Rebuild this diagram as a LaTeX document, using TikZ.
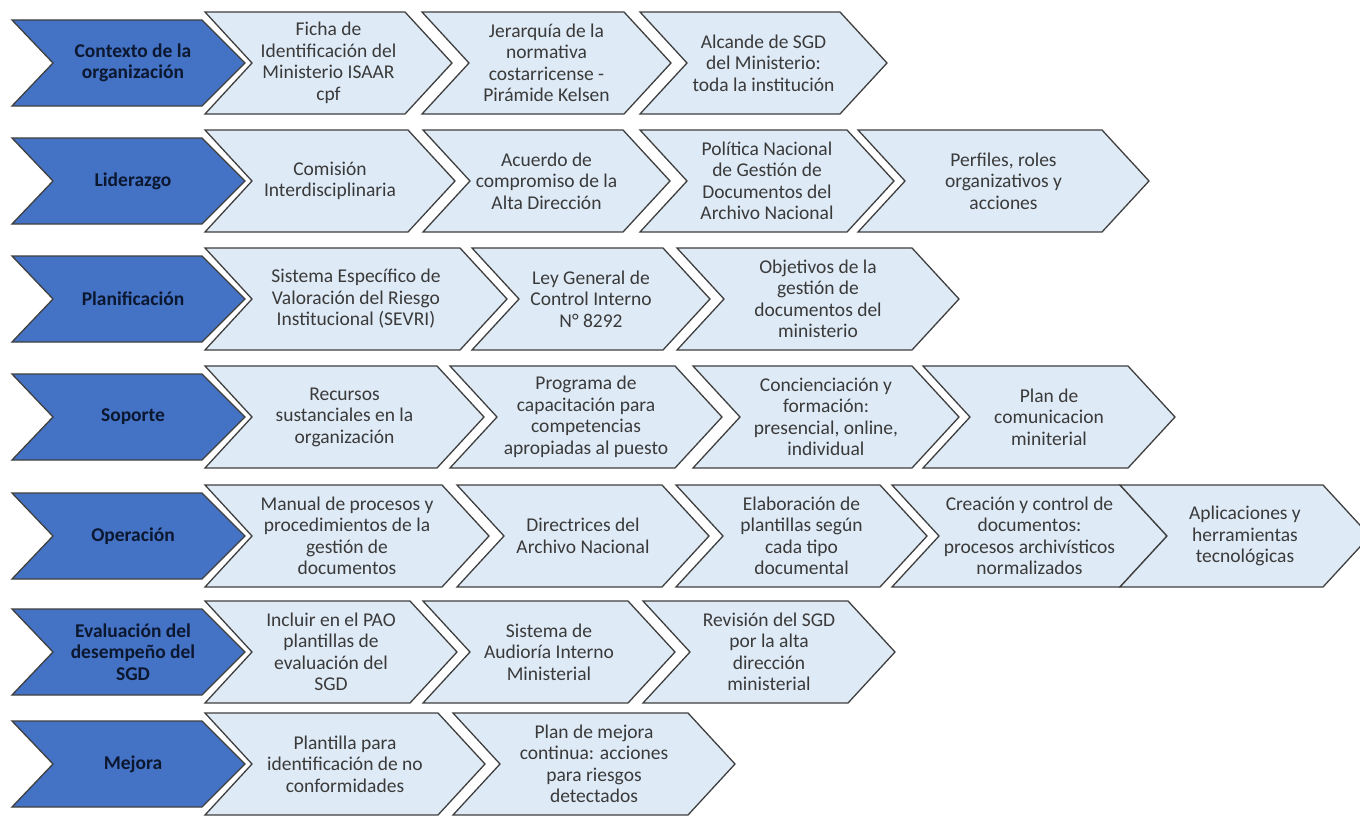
\documentclass[tikz,border=0pt]{standalone}
\usepackage{fontspec}
\setmainfont{Carlito}
\definecolor{darkfill}{HTML}{4472C4}
\definecolor{lightfill}{HTML}{DEEAF6}
\definecolor{edge}{HTML}{3F3F3F}
\definecolor{dtext}{HTML}{0C1730}
\definecolor{ltext}{HTML}{3A3A3A}
\tikzset{
  lightchev/.style={fill=lightfill, draw=edge, line width=1.3pt, line join=miter},
  darkchev/.style={fill=darkfill, draw=edge, line width=1.3pt, line join=miter},
  ltextstyle/.style={align=center, text=ltext, font=\fontsize{19.5}{21.5}\selectfont, inner sep=0pt},
  dtextstyle/.style={align=center, text=dtext, font=\fontsize{19.5}{21.5}\selectfont\bfseries, inner sep=0pt}
}
% light chevron: name, xL, xR, yc, text
\newcommand{\lchev}[5]{%
  \draw[lightchev] (#2,{#4-51}) -- (#3,{#4-51}) -- ({#3+47},#4) -- (#3,{#4+51}) -- (#2,{#4+51}) -- ({#2+47},#4) -- cycle;
  \node[ltextstyle] (#1) at ({(#2+#3+47)/2},#4) {#5};}
% dark chevron: name, yc, text
\newcommand{\dchev}[3]{%
  \draw[darkchev] (12,{#2-43}) -- (202,{#2-43}) -- (245,#2) -- (202,{#2+43}) -- (12,{#2+43}) -- (53,#2) -- cycle;
  \node[dtextstyle] (#1) at (133,#2) {#3};}
\begin{document}
\begin{tikzpicture}[x=1pt,y=-1pt]
\useasboundingbox (0,0) rectangle (1360,816);
\clip (0,0) rectangle (1360,816);
% Row 1
\lchev{a1}{205}{405}{63}{Ficha de\\Identificación del\\Ministerio ISAAR\\cpf}
\lchev{a2}{422}{624}{63}{Jerarquía de la\\normativa\\costarricense -\\Pirámide Kelsen}
\lchev{a3}{640}{840}{63}{Alcande de SGD\\del Ministerio:\\toda la institución}
\dchev{a0}{63}{Contexto de la\\organización}
% Row 2
\lchev{b1}{205}{408}{181}{Comisión\\Interdisciplinaria}
\lchev{b2}{423}{623}{181}{Acuerdo de\\compromiso de la\\Alta Dirección}
\lchev{b3}{640}{847}{181}{Política Nacional\\de Gestión de\\Documentos del\\Archivo Nacional}
\lchev{b4}{858}{1102}{181}{Perfiles, roles\\organizativos y\\acciones}
\dchev{b0}{181}{Liderazgo}
% Row 3
\lchev{c1}{205}{460}{299}{Sistema Específico de\\Valoración del Riesgo\\Institucional (SEVRI)}
\lchev{c2}{472}{663}{299}{Ley General de\\Control Interno\\N° 8292}
\lchev{c3}{677}{912}{299}{Objetivos de la\\gestión de\\documentos del\\ministerio}
\dchev{c0}{299}{Planificación}
% Row 4
\lchev{d1}{205}{437}{417}{Recursos\\sustanciales en la\\organización}
\lchev{d2}{450}{675}{417}{Programa de\\capacitación para\\competencias\\apropiadas al puesto}
\lchev{d3}{693}{912}{417}{Concienciación y\\formación:\\presencial, online,\\individual}
\lchev{d4}{923}{1128}{417}{Plan de\\comunicacion\\miniterial}
\dchev{d0}{417}{Soporte}
% Row 5
\lchev{e1}{205}{442}{536}{Manual de procesos y\\procedimientos de la\\gestión de\\documentos}
\lchev{e2}{457}{662}{536}{Directrices del\\Archivo Nacional}
\lchev{e3}{676}{880}{536}{Elaboración de\\plantillas según\\cada tipo\\documental}
\lchev{e4}{892}{1120}{536}{Creación y control de\\documentos:\\procesos archivísticos\\normalizados}
\lchev{e5}{1120}{1323}{536}{Aplicaciones y\\herramientas\\tecnológicas}
\dchev{e0}{536}{Operación}
% Row 6
\lchev{f1}{205}{410}{652}{Incluir en el PAO\\plantillas de\\evaluación del\\SGD}
\lchev{f2}{423}{628}{652}{Sistema de\\Audioría Interno\\Ministerial}
\lchev{f3}{643}{848}{652}{Revisión del SGD\\por la alta\\dirección\\ministerial}
\dchev{f0}{652}{Evaluación del\\desempeño del\\SGD}
% Row 7
\lchev{g1}{205}{438}{764}{Plantilla para\\identificación de no\\conformidades}
\lchev{g2}{453}{688}{764}{Plan de mejora\\continua: acciones\\para riesgos\\detectados}
\dchev{g0}{764}{Mejora}
\end{tikzpicture}
\end{document}
